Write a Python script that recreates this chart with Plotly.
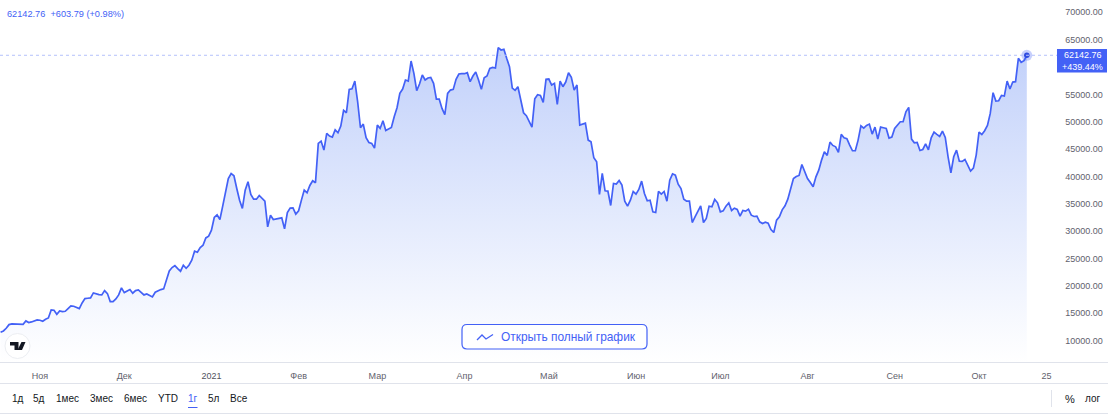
import pandas as pd
import plotly.graph_objects as go

# ============================================
# DANE
# ============================================

cena = [
    11520, 11745, 12233, 12904, 13026, 13026, 12965, 13026, 12965, 13575, 13270, 13392, 13514, 13758, 13700, 13514,
    13880, 14124, 15588, 15527, 14795, 15405, 15283, 15344, 15832, 16320, 16259, 16015, 15832, 16869, 17662, 17723,
    17784, 18699, 18516, 18394, 18333, 19126, 18577, 17113, 17113, 17601, 18333, 19614, 18760, 19065, 19309, 18638,
    19126, 19248, 18821, 18333, 18516, 18211, 17967, 18821, 19126, 19309, 19431, 21322, 22725, 23335, 23701, 23152,
    22664, 23762, 23213, 23762, 24677, 26324, 26141, 26995, 27422, 28750, 29069, 30167, 32485, 32973, 32119, 34559,
    37182, 39622, 40537, 40110, 37792, 35657, 34132, 37487, 39012, 36694, 35840, 35840, 36511, 35962, 35474, 30777,
    32912, 32119, 32241, 32302, 32424, 30411, 33400, 34193, 34254, 33095, 33705, 35657, 37487, 36999, 38341, 39195,
    38829, 46027, 46454, 44807, 47857, 47369, 47186, 48528, 47979, 49199, 52066, 51639, 55909, 56031, 57434, 53652,
    48894, 49565, 47064, 46210, 46027, 45173, 49382, 48772, 50175, 48406, 48711, 48955, 50907, 52554, 55177, 55970,
    57617, 57434, 61094, 58837, 55665, 56885, 58532, 57617, 57983, 58105, 57007, 54140, 54140, 52432, 51273, 55177,
    55787, 55909, 57739, 58715, 58776, 58776, 58960, 57312, 58348, 59081, 57617, 55909, 58044, 58348, 59752, 59935,
    59813, 63534, 63107, 63229, 61582, 60057, 56153, 55726, 56397, 53957, 51639, 51090, 49992, 49016, 54201, 54933,
    54811, 53530, 57739, 57800, 56702, 57007, 53164, 57434, 56397, 57251, 58960, 58105, 55787, 56702, 49382, 49565,
    49748, 46637, 46332, 43404, 42672, 36694, 40537, 37365, 37304, 34681, 38707, 38585, 39256, 38402, 35474, 34559,
    35657, 37243, 36755, 37609, 39134, 36877, 35535, 35657, 33522, 33400, 37243, 36755, 37243, 35474, 39317, 40476,
    40232, 38585, 37792, 35840, 35474, 35474, 31570, 32607, 33705, 34620, 31570, 32302, 34559, 34437, 35779, 35169,
    33522, 33705, 34559, 35169, 33766, 34193, 33949, 32729, 33766, 33644, 34010, 32912, 32668, 32729, 31692, 31387,
    31631, 31448, 30289, 29740, 31997, 32607, 33888, 34620, 35840, 37792, 39622, 39988, 40171, 42184, 40842, 39622,
    38889, 38097, 39927, 41147, 42977, 44502, 43831, 46271, 45661, 45417, 44380, 47674, 47064, 46881, 45722, 44685,
    44685, 46637, 49260, 48833, 49321, 49565, 47735, 49016, 46820, 49016, 48894, 48772, 47003, 47186, 48772, 49382,
    49992, 49992, 51822, 52615, 46820, 46149, 46210, 44746, 44929, 45966, 44868, 47064, 48101, 47674, 47308, 48284,
    47125, 43587, 40659, 43587, 44807, 42794, 42733, 43099, 42001, 40964, 41513, 43892, 48101, 47674, 48345, 49321,
    51517, 55299, 53774, 53835, 54811, 54689, 57434, 55970, 57251, 57312, 61582, 60850, 61155, 62142.76,
]
daty = pd.date_range("2020-10-18", periods=len(cena), freq="D")

ticki_x = ["2020-11-01", "2020-12-01", "2021-01-01", "2021-02-01", "2021-03-01", "2021-04-01",
           "2021-05-01", "2021-06-01", "2021-07-01", "2021-08-01", "2021-09-01", "2021-10-01", "2021-10-25"]
etykiety_x = ["Ноя", "Дек", "<span style='color:#50535e'>2021</span>", "Фев", "Мар", "Апр",
              "Май", "Июн", "Июл", "Авг", "Сен", "Окт", "25"]
# 60000 zasłania etykieta ceny
ticki_y = [10000, 15000, 20000, 25000, 30000, 35000, 40000, 45000, 50000, 55000, 65000, 70000]

naglowek = "62142.76  +603.79 (+0.98%)"
przycisk = "Открыть полный график"
zakresy = [("1д", 18), ("5д", 39), ("1мес", 67.5), ("3мес", 101.5), ("6мес", 135.5),
           ("YTD", 167.5), ("1г", 192.5), ("5л", 213.5), ("Все", 238.5)]

# ============================================
# STYL
# ============================================

W, H = 1108, 416
NIEBIESKI = "#4361f6"
SZARY = "#5f626d"
LINIA = "#e0e3eb"
FONT = "Liberation Sans"


def px(x):
    return x / W


def py(y):
    return 1 - y / H


def linia(x0, y0, x1, y1, kolor=LINIA, szer=1):
    return dict(type="line", xref="paper", yref="paper", x0=px(x0), y0=py(y0), x1=px(x1), y1=py(y1),
                line=dict(color=kolor, width=szer), layer="above")


def sciezka(punkty, **styl):
    d = "M " + " L ".join(f"{px(x):.5f} {py(y):.5f}" for x, y in punkty)
    return dict(type="path", xref="paper", yref="paper", path=d, layer="above", **styl)


def tekst(x, y, t, kolor="#131722", rozmiar=10, anchor="center"):
    return dict(xref="paper", yref="paper", x=px(x), y=py(y), text=t, showarrow=False, xanchor=anchor,
                yanchor="middle", borderpad=0, font=dict(family=FONT, size=rozmiar, color=kolor))


# ============================================
# WYKRES
# ============================================

fig = go.Figure()

fig.add_trace(go.Scatter(
    x=daty, y=cena, mode="lines", fill="tozeroy",
    line=dict(color=NIEBIESKI, width=1.7),
    fillgradient=dict(type="vertical", start=5976, stop=63534,
                      colorscale=[[0, "rgba(255,255,255,0.9)"], [1, "rgba(190,206,250,0.95)"]]),
    hoverinfo="skip", showlegend=False,
))

fig.add_hline(y=cena[-1], line=dict(color="#b4c1fb", width=1, dash="dot"))

fig.add_trace(go.Scatter(
    x=[daty[-1]], y=[cena[-1]], mode="markers",
    marker=dict(size=11, color="rgba(67,97,246,0.30)"), hoverinfo="skip", showlegend=False,
))
fig.add_trace(go.Scatter(
    x=[daty[-1]], y=[cena[-1]], mode="markers",
    marker=dict(size=5.5, color="#2f4be0"), hoverinfo="skip", showlegend=False,
))

ksztalty = [
    linia(1057.5, 0, 1057.5, 383),
    linia(0, 362.5, 1108, 362.5),
    linia(0, 383.5, 1108, 383.5),
    linia(0, 413.5, 1108, 413.5),
    linia(1051.5, 390, 1051.5, 407),
    # etykieta ceny
    sciezka([(1057, 49), (1107, 49), (1107, 72.5), (1057, 72.5)], fillcolor=NIEBIESKI, line=dict(width=0)),
    # zakres 1г
    linia(188, 407.5, 197.5, 407.5, NIEBIESKI, 1),
    # przycisk
    dict(type="path", xref="paper", yref="paper", layer="above",
         path=(f"M {px(467)} {py(324.5)} L {px(642)} {py(324.5)} Q {px(647)} {py(324.5)} {px(647)} {py(329.5)} "
               f"L {px(647)} {py(344)} Q {px(647)} {py(349)} {px(642)} {py(349)} L {px(467)} {py(349)} "
               f"Q {px(462)} {py(349)} {px(462)} {py(344)} L {px(462)} {py(329.5)} Q {px(462)} {py(324.5)} {px(467)} {py(324.5)} Z"),
         fillcolor="rgba(255,255,255,0.85)", line=dict(color=NIEBIESKI, width=1.2)),
    sciezka([(477, 340), (482, 335), (486, 339), (493, 334.5)], line=dict(color=NIEBIESKI, width=1.3)),
    # logo TV
    dict(type="circle", xref="paper", yref="paper", layer="above", x0=px(5), x1=px(30), y0=py(333.5), y1=py(358.5),
         fillcolor="white", line=dict(color="#eceef2", width=1)),
    sciezka([(10, 342), (18.5, 342), (18.5, 350), (14.5, 350), (14.5, 345.5), (10, 345.5)],
            fillcolor="#131722", line=dict(width=0)),
    sciezka([(21.5, 342), (25.5, 342), (22, 350), (17.5, 350)], fillcolor="#131722", line=dict(width=0)),
]

adnotacje = [
    tekst(5.5, 14, naglowek, NIEBIESKI, 9.2, "left"),
    tekst(1082.5, 55, "62142.76", "white", 9),
    tekst(1082.5, 66.7, "+439.44%", "white", 9),
    tekst(499.5, 337, przycisk, NIEBIESKI, 11.9, "left"),
    tekst(1069.5, 398.5, "%", "#131722", 11),
    tekst(1093, 398.5, "лог", "#131722", 10),
]
for nazwa, x in zakresy:
    adnotacje.append(tekst(x, 398.5, nazwa, NIEBIESKI if nazwa == "1г" else "#131722", 10))

fig.update_layout(
    width=W, height=H,
    margin=dict(l=0, r=0, t=0, b=0),
    paper_bgcolor="white", plot_bgcolor="white",
    font=dict(family=FONT, size=9, color=SZARY),
    shapes=ksztalty,
    annotations=adnotacje,
    xaxis=dict(
        domain=[0, px(1057.5)],
        range=["2020-10-17 19:00", "2021-10-28 22:00"],
        tickmode="array", tickvals=ticki_x, ticktext=etykiety_x, tickangle=0,
        showgrid=False, zeroline=False, showline=False,
        ticks="outside", ticklen=5, tickcolor="rgba(0,0,0,0)", tickfont=dict(size=9, color=SZARY),
    ),
    yaxis=dict(
        domain=[py(362.5), 1],
        range=[5976, 72250],
        side="right",
        tickmode="array", tickvals=ticki_y, tickformat=".2f",
        showgrid=False, zeroline=False, showline=False,
        ticks="outside", ticklen=5, tickcolor="rgba(0,0,0,0)", tickfont=dict(size=9, color=SZARY),
    ),
)

fig.write_html("out.html", config={"displayModeBar": False},
               post_script="document.body.style.margin='0';")
